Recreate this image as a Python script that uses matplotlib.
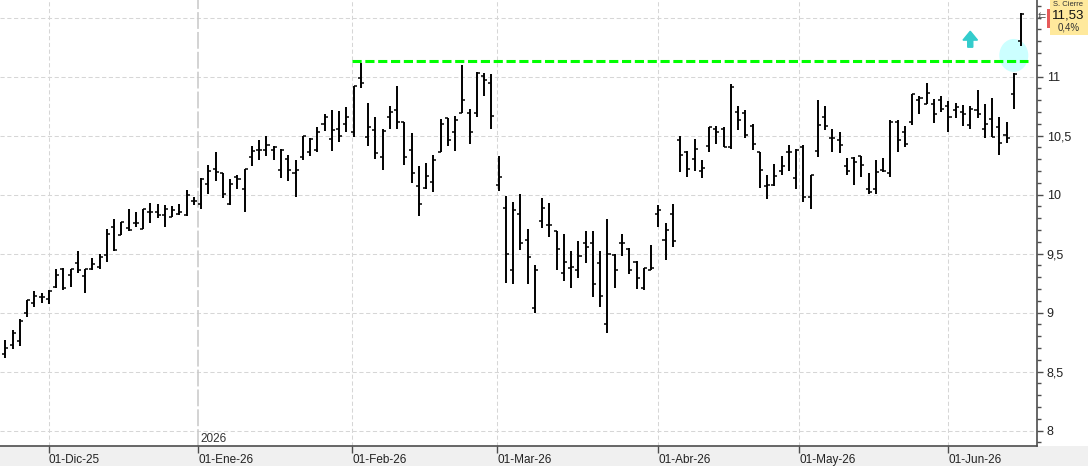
import numpy as np
import matplotlib.pyplot as plt
from matplotlib.patches import Rectangle, Ellipse, FancyArrow

plt.rcParams['font.family'] = ['Liberation Sans Narrow', 'Liberation Sans', 'DejaVu Sans']

# daily OHLC, one bar per trading session (21-Nov-25 .. mid Jun-26)
opens = [8.65, 8.73, 8.76, 9.00, 9.08, 9.13, 9.12, 9.22, 9.37, 9.32,
         9.42, 9.31, 9.37, 9.39, 9.49, 9.73, 9.66, 9.72, 9.76, 9.71,
         9.85, 9.85, 9.83, 9.81, 9.84, 9.83, 9.95, 9.92, 10.09, 10.22,
         10.18, 9.92, 10.15, 10.05, 10.32, 10.38, 10.38, 10.38, 10.21, 10.30,
         10.18, 10.32, 10.36, 10.38, 10.60, 10.47, 10.56, 10.60, 10.53, 10.99,
         10.49, 10.55, 10.32, 10.66, 10.72, 10.62, 10.38, 10.07, 10.06, 10.11,
         10.36, 10.65, 10.53, 10.69, 10.69, 10.69, 11.01, 10.95, 10.08, 9.885,
         9.36, 9.84, 9.62, 9.04, 9.78, 9.74, 9.69, 9.34, 9.38, 9.36,
         9.59, 9.59, 9.42, 8.90, 9.49, 9.59, 9.54, 9.43, 9.21, 9.36,
         9.84, 9.62, 9.84, 10.46, 10.36, 10.30, 10.20, 10.41, 10.56, 10.56,
         10.40, 10.70, 10.69, 10.58, 10.36, 10.07, 10.08, 10.20, 10.36, 10.14,
         10.40, 9.98, 10.37, 10.66, 10.48, 10.46, 10.24, 10.31, 10.33, 10.05,
         10.05, 10.21, 10.18, 10.62, 10.53, 10.62, 10.80, 10.77, 10.77, 10.80,
         10.75, 10.72, 10.70, 10.59, 10.72, 10.56, 10.64, 10.57, 10.51, 10.85,
         11.30]
highs = [8.77, 8.85, 8.95, 9.11, 9.18, 9.17, 9.19, 9.37, 9.38, 9.37,
         9.52, 9.37, 9.46, 9.50, 9.71, 9.79, 9.77, 9.88, 9.85, 9.88,
         9.93, 9.92, 9.91, 9.90, 9.92, 10.04, 9.98, 10.14, 10.25, 10.36,
         10.18, 10.13, 10.17, 10.22, 10.41, 10.46, 10.50, 10.41, 10.39, 10.34,
         10.29, 10.50, 10.48, 10.57, 10.68, 10.72, 10.71, 10.74, 10.92, 11.12,
         10.78, 10.66, 10.56, 10.75, 10.92, 10.62, 10.52, 10.24, 10.27, 10.34,
         10.64, 10.65, 10.67, 11.10, 10.73, 11.04, 11.03, 11.02, 10.33, 9.99,
         9.94, 10.01, 9.71, 9.40, 9.97, 9.93, 9.69, 9.67, 9.52, 9.61,
         9.69, 9.69, 9.52, 9.79, 9.50, 9.67, 9.55, 9.44, 9.38, 9.57,
         9.91, 9.76, 9.92, 10.50, 10.37, 10.47, 10.29, 10.57, 10.58, 10.57,
         10.94, 10.75, 10.72, 10.60, 10.36, 10.17, 10.26, 10.33, 10.42, 10.39,
         10.42, 10.17, 10.80, 10.75, 10.56, 10.53, 10.31, 10.32, 10.33, 10.18,
         10.29, 10.31, 10.63, 10.63, 10.58, 10.85, 10.84, 10.95, 10.81, 10.84,
         10.79, 10.78, 10.76, 10.75, 10.89, 10.77, 10.82, 10.66, 10.62, 11.03,
         11.54]
lows = [8.62, 8.69, 8.72, 8.96, 9.05, 9.08, 9.07, 9.21, 9.19, 9.22,
        9.34, 9.17, 9.36, 9.37, 9.43, 9.52, 9.66, 9.69, 9.73, 9.71,
        9.76, 9.80, 9.73, 9.81, 9.83, 9.82, 9.91, 9.88, 10.01, 10.12,
        9.97, 9.91, 10.05, 9.85, 10.24, 10.29, 10.33, 10.29, 10.14, 10.12,
        9.98, 10.29, 10.33, 10.36, 10.54, 10.37, 10.45, 10.53, 10.49, 10.90,
        10.41, 10.30, 10.21, 10.56, 10.56, 10.25, 10.10, 9.82, 10.05, 10.02,
        10.36, 10.41, 10.37, 10.69, 10.43, 10.66, 10.84, 10.56, 10.03, 9.255,
        9.24, 9.53, 9.24, 9.00, 9.72, 9.64, 9.36, 9.27, 9.21, 9.29,
        9.42, 9.13, 9.05, 8.83, 9.21, 9.48, 9.33, 9.20, 9.19, 9.36,
        9.73, 9.45, 9.56, 10.19, 10.15, 10.20, 10.14, 10.36, 10.43, 10.40,
        10.39, 10.55, 10.48, 10.38, 10.06, 9.96, 10.07, 10.17, 10.20, 10.05,
        9.94, 9.88, 10.32, 10.55, 10.36, 10.35, 10.17, 10.08, 10.15, 10.01,
        10.01, 10.19, 10.15, 10.36, 10.40, 10.59, 10.68, 10.77, 10.61, 10.70,
        10.53, 10.65, 10.58, 10.56, 10.65, 10.48, 10.49, 10.34, 10.44, 10.73,
        11.26]
closes = [8.70, 8.83, 8.93, 9.11, 9.14, 9.13, 9.18, 9.32, 9.21, 9.37,
          9.36, 9.37, 9.41, 9.47, 9.67, 9.53, 9.77, 9.70, 9.76, 9.88,
          9.85, 9.83, 9.88, 9.87, 9.85, 10.00, 9.95, 10.13, 10.20, 10.19,
          10.01, 10.09, 10.13, 10.22, 10.37, 10.38, 10.42, 10.40, 10.38, 10.21,
          10.21, 10.50, 10.47, 10.53, 10.66, 10.55, 10.50, 10.66, 10.92, 10.95,
          10.57, 10.35, 10.54, 10.70, 10.62, 10.32, 10.18, 9.92, 10.16, 10.29,
          10.60, 10.46, 10.63, 10.80, 10.53, 11.03, 10.97, 10.67, 10.15, 9.495,
          9.87, 9.59, 9.47, 9.36, 9.89, 9.74, 9.54, 9.43, 9.39, 9.48,
          9.56, 9.24, 9.14, 9.50, 9.36, 9.59, 9.36, 9.29, 9.38, 9.38,
          9.87, 9.70, 9.61, 10.34, 10.22, 10.39, 10.23, 10.57, 10.53, 10.40,
          10.91, 10.63, 10.51, 10.43, 10.21, 10.08, 10.16, 10.24, 10.36, 10.38,
          9.98, 10.17, 10.59, 10.58, 10.48, 10.42, 10.20, 10.28, 10.25, 10.02,
          10.19, 10.20, 10.62, 10.46, 10.43, 10.85, 10.82, 10.86, 10.68, 10.73,
          10.66, 10.74, 10.68, 10.73, 10.68, 10.60, 10.49, 10.44, 10.48, 11.02,
          11.53]

month_pos = [6, 26.6, 47.8, 67.8, 90, 109.4, 130]
month_labels = ['01-Dic-25', '01-Ene-26', '01-Feb-26', '01-Mar-26', '01-Abr-26', '01-May-26', '01-Jun-26']
year_idx = 1
resistance = 11.13
resistance_from = 47.8
last_price = '11,53'
last_change = '0,4%'

W, H = 1088, 466
fig = plt.figure(figsize=(W / 100, H / 100), dpi=100)
fig.patches.append(Rectangle((0, 0), 1, 20 / H, transform=fig.transFigure,
                             facecolor='#f0f0f0', edgecolor='none', zorder=-1))
ax = fig.add_axes([0, 20 / H, 1037 / W, 446 / H])
ax.set_facecolor('white')

x = np.arange(len(opens))
ax.set_xlim(-0.73, 142.2)
ax.set_ylim(7.87, 11.65)

# grid
for yv in np.arange(8, 11.6, 0.5):
    ax.axhline(yv, color='#d6d6d6', lw=0.75, ls=(0, (4, 2.5)), zorder=1)
for i, p in enumerate(month_pos):
    if i == year_idx:
        ax.axvline(p, color='#c8c8c8', lw=1.1, ls=(0, (11, 2)), zorder=1)
    else:
        ax.axvline(p, color='#d6d6d6', lw=0.75, ls=(0, (4, 2.5)), zorder=1)
ax.text(month_pos[year_idx] + 0.3, 7.875, '2026', fontsize=8.5, color='#333333',
        ha='left', va='bottom', zorder=3)

# highlight circle and arrow
ax.add_patch(Ellipse((139.0, 11.18), 4.0, 0.28, facecolor='#ccffff', edgecolor='none', zorder=2))
ax.add_patch(FancyArrow(133.0, 11.25, 0, 0.135, width=0.7, head_width=2.0, head_length=0.075,
                        length_includes_head=True, color='#33cccc', zorder=3))

# OHLC bars
ax.vlines(x, lows, highs, color='black', lw=1.4, zorder=4)
ax.hlines(opens, x - 0.42, x, color='black', lw=1.1, zorder=4)
ax.hlines(closes, x, x + 0.42, color='black', lw=1.1, zorder=4)

ax.hlines(resistance, resistance_from, 141.0, color='#00ff00', lw=2.2, ls=(0, (3, 1.2)), zorder=5)

# axes styling
for s in ['top', 'left']:
    ax.spines[s].set_visible(False)
for s in ['right', 'bottom']:
    ax.spines[s].set_color('#4d4d4d')
    ax.spines[s].set_linewidth(1.2)

ax.yaxis.tick_right()
yt = np.arange(8, 11.01, 0.5)
ax.set_yticks(yt)
ax.set_yticklabels([('%g' % v).replace('.', ',') for v in yt])
ax.set_yticks(np.arange(7.9, 11.65, 0.1), minor=True)
ax.tick_params(axis='y', which='major', length=4, width=1, color='#4d4d4d', pad=3,
               labelsize=9, labelcolor='#222222')
ax.tick_params(axis='y', which='minor', length=3, width=1, color='#4d4d4d')

ax.set_xticks(month_pos)
ax.set_xticklabels(month_labels, ha='left')
ax.tick_params(axis='x', length=5, width=1, color='#4d4d4d', pad=1,
               labelsize=8.5, labelcolor='#222222')

# last price box
fig.patches.append(Rectangle((1050 / W, 1 - 35 / H), 38 / W, 35 / H, transform=fig.transFigure,
                             facecolor='#ffe99c', edgecolor='none', zorder=5))
fig.patches.append(Rectangle((1046.5 / W, 1 - 28 / H), 3.5 / W, 19 / H, transform=fig.transFigure,
                             facecolor='#e65a5a', edgecolor='none', zorder=6))
fig.text(1068 / W, 1 - 15 / H, last_price, fontsize=9.5, ha='center', va='center', color='#111111', zorder=7)
fig.text(1069 / W, 1 - 28 / H, last_change, fontsize=7, ha='center', va='center', color='#333333', zorder=7)
fig.text(1068 / W, 1 - 0.5 / H, 'S. Cierre', fontsize=5.5, ha='center', va='top', color='#333333', zorder=7)
fig.text(1042 / W, 1 - 16 / H, '\u21c7', fontsize=7, ha='center', va='center', color='#555555',
         family='DejaVu Sans', zorder=7)

fig.savefig('out.png', dpi=100)
